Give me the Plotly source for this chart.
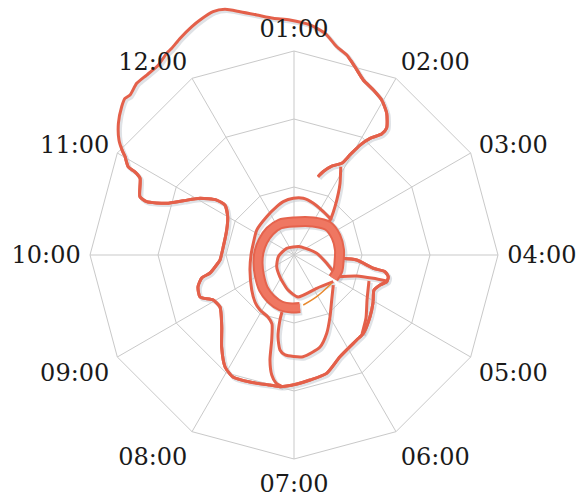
import math
import plotly.graph_objects as go

# Category labels of the radar (clock hours)
hours = ["01:00", "02:00", "03:00", "04:00", "05:00", "06:00",
         "07:00", "08:00", "09:00", "10:00", "11:00", "12:00"]

# Traced line segments: theta in degrees clockwise from 01:00, r in grid units (3 = outer ring)
outer_theta = [17.0, 19.2, 23.0, 27.5, 29.2, 31.0, 33.1, 35.9, 36.1, 33.2, 29.5, 25.7, 21.6, 17.9,
               14.8, 11.6, 8.0, 4.0, 359.0, 355.0, 351.2, 347.5, 344.3, 341.6, 338.2, 335.9, 332.3,
               329.4, 327.7, 324.5, 320.7, 317.5, 314.3, 312.8, 310.7, 306.9, 303.3, 301.4, 300.2,
               298.0, 297.6, 296.5, 290.7, 289.9, 292.1, 296.1, 301.1, 305.4, 305.9, 300.0, 290.4,
               276.7, 266.1, 264.0, 257.9, 256.0, 251.6, 245.9, 241.0, 234.9, 225.1, 218.2, 211.6,
               206.6, 199.1, 190.5, 186.1, 178.7, 172.7, 164.6, 155.7, 143.6, 138.5, 129.1, 121.3,
               113.6, 109.2, 106.1, 103.0, 100.4, 99.5, 94.6, 94.0]
outer_r = [1.204, 1.297, 1.421, 1.520, 1.686, 1.886, 2.048, 2.197, 2.312, 2.490, 2.619, 2.692, 2.768,
           2.911, 3.041, 3.127, 3.292, 3.391, 3.456, 3.494, 3.572, 3.665, 3.753, 3.771, 3.722, 3.679,
           3.601, 3.532, 3.508, 3.434, 3.420, 3.424, 3.369, 3.389, 3.343, 3.229, 3.080, 2.963, 2.875,
           2.761, 2.640, 2.530, 2.422, 2.304, 2.021, 1.813, 1.614, 1.395, 1.253, 1.126, 1.056, 1.047,
           1.091, 1.124, 1.263, 1.399, 1.488, 1.514, 1.363, 1.330, 1.500, 1.721, 1.934, 2.006, 1.977,
           1.944, 1.948, 1.897, 1.853, 1.805, 1.641, 1.553, 1.538, 1.440, 1.359, 1.284, 1.340, 1.419,
           1.423, 1.360, 1.182, 0.925, 0.703]

thick_theta = [120.7, 108.8, 98.8, 83.7, 66.5, 49.5, 30.3, 0.0, 335.7, 315.0, 294.3, 274.9, 257.5,
               238.7, 221.9, 207.6, 194.3, 182.2, 173.5]
thick_r = [0.672, 0.684, 0.670, 0.673, 0.674, 0.657, 0.562, 0.485, 0.500, 0.499, 0.500, 0.516, 0.542,
           0.594, 0.672, 0.730, 0.774, 0.780, 0.777]

inner_theta = [113.0, 104.2, 85.7, 35.9, 312.5, 263.8, 235.9, 212.5, 189.7, 174.6, 145.7, 124.2]
inner_r = [0.628, 0.496, 0.335, 0.151, 0.146, 0.232, 0.307, 0.384, 0.522, 0.620, 0.593, 0.699]

ring_theta = [47.1, 34.1, 20.5, 9.3, 359.3, 348.6, 340.3, 324.5, 303.8, 286.0, 270.0, 251.2, 230.4,
              219.7, 211.7, 202.8, 197.7, 194.7, 192.9, 190.5, 188.0, 185.2]
ring_r = [0.756, 0.769, 0.812, 0.845, 0.834, 0.800, 0.754, 0.692, 0.660, 0.623, 0.632, 0.684, 0.807,
          0.898, 0.951, 0.989, 1.065, 1.292, 1.584, 1.795, 1.901, 1.942]

stem_theta = [27.9, 32.7, 35.7, 40.3, 44.5, 47.3]
stem_r = [1.469, 1.253, 1.117, 0.932, 0.790, 0.687]

down_theta = [191.9, 192.2, 191.1, 188.4, 185.1, 174.9, 164.2, 157.3, 149.7, 140.0, 127.4]
down_r = [0.857, 0.978, 1.224, 1.412, 1.476, 1.501, 1.406, 1.248, 1.050, 0.863, 0.727]

lip_theta = [116.9, 108.5, 106.4, 105.7]
lip_r = [0.704, 0.972, 1.216, 1.416]

side_theta = [109.1, 121.6, 131.2, 139.3]
side_r = [1.167, 1.261, 1.407, 1.533]

orange_theta = [169.5, 151.4, 126.9]
orange_r = [0.748, 0.698, 0.693]

RED = "#E4604A"
GRID = "#C9C9C9"
SHADOW = "rgba(110,125,140,0.22)"

# ---- geometry of the radar (pixels) ----
W, H = 588, 503
CX, CY, RPX = 294, 255, 204          # centre and outer-ring radius of the radar
RMAX = 3                              # outer ring value
unit = RPX / RMAX                     # pixels per radial unit


def to_xy(theta, r, off=0.0):
    xs = [rv * math.sin(math.radians(t)) + off for t, rv in zip(theta, r)]
    ys = [rv * math.cos(math.radians(t)) - off for t, rv in zip(theta, r)]
    return xs, ys


thin_segments = [(outer_theta, outer_r), (inner_theta, inner_r), (ring_theta, ring_r),
                 (stem_theta, stem_r), (down_theta, down_r), (lip_theta, lip_r),
                 (side_theta, side_r)]

fig = go.Figure()

# --- under-layer (cartesian, same scale as the radar): shadows + the part of the loop
#     that reaches beyond the outer ring
sh = 1.8 / unit
for th, rr in thin_segments:
    xs, ys = to_xy(th, rr, sh)
    fig.add_trace(go.Scatter(x=xs, y=ys, mode="lines",
                             line=dict(color=SHADOW, width=4, shape="spline", smoothing=0.6),
                             hoverinfo="skip", showlegend=False))
xs, ys = to_xy(thick_theta, thick_r, sh)
fig.add_trace(go.Scatter(x=xs, y=ys, mode="lines",
                         line=dict(color=SHADOW, width=12, shape="spline", smoothing=0.8),
                         hoverinfo="skip", showlegend=False))
xs, ys = to_xy(outer_theta, outer_r)
fig.add_trace(go.Scatter(x=xs, y=ys, mode="lines",
                         line=dict(color=RED, width=3, shape="spline", smoothing=0.6),
                         hoverinfo="skip", showlegend=False))

# --- radar grid (category polygon)
fig.add_trace(go.Scatterpolar(theta=hours, r=[0] * 12, mode="markers",
                              marker=dict(size=0.1, opacity=0), hoverinfo="skip",
                              showlegend=False, subplot="polar"))

# --- lines on top of the grid
for th, rr in thin_segments:
    fig.add_trace(go.Scatterpolar(theta=th, r=rr, mode="lines",
                                  line=dict(color=RED, width=3, shape="spline", smoothing=0.6),
                                  showlegend=False, subplot="polar2"))
fig.add_trace(go.Scatterpolar(theta=thick_theta, r=thick_r, mode="lines",
                              line=dict(color="#E5634D", width=11, shape="spline", smoothing=0.8),
                              showlegend=False, subplot="polar2"))
fig.add_trace(go.Scatterpolar(theta=thick_theta, r=thick_r, mode="lines",
                              line=dict(color="#EF7762", width=7, shape="spline", smoothing=0.8),
                              showlegend=False, subplot="polar2"))
fig.add_trace(go.Scatterpolar(theta=orange_theta, r=orange_r, mode="lines",
                              line=dict(color="#E8892E", width=1.5, shape="spline"),
                              showlegend=False, subplot="polar2"))

dom = dict(x=[(CX - RPX) / W, (CX + RPX) / W], y=[(H - CY - RPX) / H, (H - CY + RPX) / H])

fig.update_layout(
    width=W, height=H,
    margin=dict(l=0, r=0, t=0, b=0),
    paper_bgcolor="white",
    plot_bgcolor="rgba(0,0,0,0)",
    showlegend=False,
    font=dict(family="DejaVu Serif", size=24, color="#1a1a1a"),
    polar=dict(
        domain=dom,
        bgcolor="rgba(0,0,0,0)",
        gridshape="linear",
        angularaxis=dict(type="category", categoryarray=hours, rotation=90,
                         direction="clockwise", showline=True, linecolor=GRID, linewidth=1,
                         gridcolor=GRID, gridwidth=1, ticks="outside", ticklen=4,
                         tickcolor="rgba(0,0,0,0)",
                         tickfont=dict(family="DejaVu Serif", size=24, color="#1a1a1a")),
        radialaxis=dict(range=[0, RMAX], dtick=1, showticklabels=False, ticks="",
                        showline=False, gridcolor=GRID, gridwidth=1),
    ),
    polar2=dict(
        domain=dom,
        bgcolor="rgba(0,0,0,0)",
        angularaxis=dict(rotation=90, direction="clockwise", visible=False,
                         showgrid=False, showline=False),
        radialaxis=dict(range=[0, RMAX], visible=False, showgrid=False, showline=False),
    ),
    xaxis=dict(domain=[0, 1], range=[-CX / unit, (W - CX) / unit], visible=False,
               fixedrange=True),
    yaxis=dict(domain=[0, 1], range=[-(H - CY) / unit, CY / unit], visible=False,
               fixedrange=True),
)

fig.write_html("out.html", config={"displayModeBar": False},
               post_script="document.body.style.margin='0px';")
